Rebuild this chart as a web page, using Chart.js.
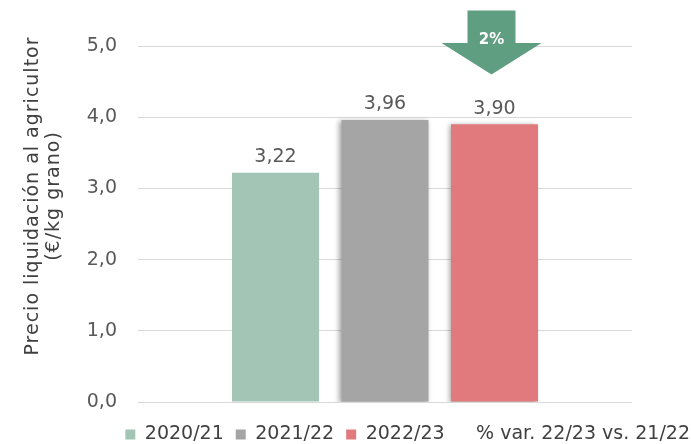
<!DOCTYPE html>
<html>
<head>
<meta charset="utf-8">
<script src="https://cdn.jsdelivr.net/npm/chart.js@4"></script>
<style>
  html, body { margin: 0; padding: 0; background: #fff; }
  #wrap { width: 691px; height: 444px; }
</style>
</head>
<body>
<div id="wrap"><canvas id="myChart"></canvas></div>
<script>
const categories = ['Precio'];
const seasons = ['2020/21', '2021/22', '2022/23'];
const prices = [3.22, 3.96, 3.90];
const seasonColors = ['#a2c5b6', '#a5a5a5', '#e07a7d'];
const varLabel = '% var. 22/23 vs. 21/22';
const varText = '2%';
const yTitle = ['Precio liquidación al agricultor', '(€/kg grano)'];

const FONT = 'DejaVu Sans';
const GREY = '#595959';
const DARK = '#404040';
const LEG_PAD = 12;

const fmt = v => v.toFixed(1).replace('.', ',');
const fmt2 = v => v.toFixed(2).replace('.', ',');

const datasets = seasons.map((s, i) => ({
    label: s,
    data: [prices[i]],
    backgroundColor: seasonColors[i],
    borderWidth: 0,
    categoryPercentage: 0.665,
    barPercentage: 0.795
}));
// legend-only entry for the variation marker
datasets.push({
    type: 'line',
    label: varLabel,
    data: [null],
    backgroundColor: 'transparent',
    borderColor: 'transparent'
});

// soft shadow on the bars of the last two seasons
const barShadow = {
    id: 'barShadow',
    beforeDatasetDraw(chart, args) {
        if (args.index === 0 || args.index > 2) return;
        const c = chart.ctx;
        c.save();
        c.shadowColor = 'rgba(0,0,0,0.35)';
        c.shadowBlur = 5;
        c.shadowOffsetX = -2;
        c.shadowOffsetY = 1;
    },
    afterDatasetDraw(chart, args) {
        if (args.index === 0 || args.index > 2) return;
        chart.ctx.restore();
    }
};

const labelsAndArrow = {
    id: 'labelsAndArrow',
    afterDatasetsDraw(chart) {
        const c = chart.ctx;
        c.save();
        c.font = '19px "' + FONT + '"';
        c.fillStyle = GREY;
        c.textAlign = 'center';
        c.textBaseline = 'bottom';
        for (let i = 0; i < seasons.length; i++) {
            const bar = chart.getDatasetMeta(i).data[0];
            c.fillText(fmt2(prices[i]), bar.x, bar.y - 6);
        }
        // down arrow above the last season
        const last = chart.getDatasetMeta(2).data[0];
        const cx = last.x - 3;
        const y = chart.scales.y;
        const top = y.getPixelForValue(5.5);
        const mid = y.getPixelForValue(5.0) - 3;
        const tip = y.getPixelForValue(4.6);
        c.fillStyle = '#5f9e80';
        c.beginPath();
        c.moveTo(cx - 24, top);
        c.lineTo(cx + 24, top);
        c.lineTo(cx + 24, mid);
        c.lineTo(cx + 50, mid);
        c.lineTo(cx, tip);
        c.lineTo(cx - 50, mid);
        c.lineTo(cx - 24, mid);
        c.closePath();
        c.fill();
        c.fillStyle = '#ffffff';
        c.font = 'bold 15px "' + FONT + '"';
        c.textBaseline = 'middle';
        c.fillText(varText, cx, top + 30);
        c.restore();
    }
};

const axisTitle = {
    id: 'axisTitle',
    afterDraw(chart) {
        const c = chart.ctx;
        c.save();
        c.font = '19px "' + FONT + '"';
        c.letterSpacing = '1px';
        c.fillStyle = DARK;
        c.textAlign = 'center';
        c.textBaseline = 'middle';
        c.translate(33, 196);
        c.rotate(-Math.PI / 2);
        c.fillText(yTitle[0], 0, 0);
        c.fillText(yTitle[1], 0, 21);
        c.restore();
    }
};

new Chart(document.getElementById('myChart'), {
    type: 'bar',
    data: { labels: categories, datasets: datasets },
    plugins: [barShadow, labelsAndArrow, axisTitle],
    options: {
        responsive: true,
        maintainAspectRatio: false,
        animation: false,
        layout: { padding: { top: 46, right: 1 - LEG_PAD, left: 0, bottom: 0 } },
        plugins: {
            tooltip: { enabled: false },
            legend: {
                position: 'bottom',
                align: 'end',
                maxHeight: 31,
                labels: {
                    boxWidth: 10,
                    boxHeight: 10,
                    padding: LEG_PAD,
                    color: DARK,
                    font: { family: FONT, size: 19 }
                }
            }
        },
        scales: {
            x: {
                display: true,
                afterFit(scale) { scale.height = 11; },
                grid: { display: false },
                border: { display: false },
                ticks: { display: false }
            },
            y: {
                min: 0,
                max: 5,
                afterFit(scale) { scale.width = 138; },
                border: { display: false },
                grid: { color: '#d9d9d9', drawTicks: false },
                ticks: {
                    stepSize: 1,
                    padding: 21,
                    color: GREY,
                    font: { family: FONT, size: 19 },
                    callback: v => fmt(v)
                }
            },
            y2: {
                position: 'right',
                display: true,
                afterFit(scale) { scale.width = 70; },
                grid: { display: false },
                border: { display: false },
                ticks: { display: false }
            }
        }
    }
});
</script>
</body>
</html>
